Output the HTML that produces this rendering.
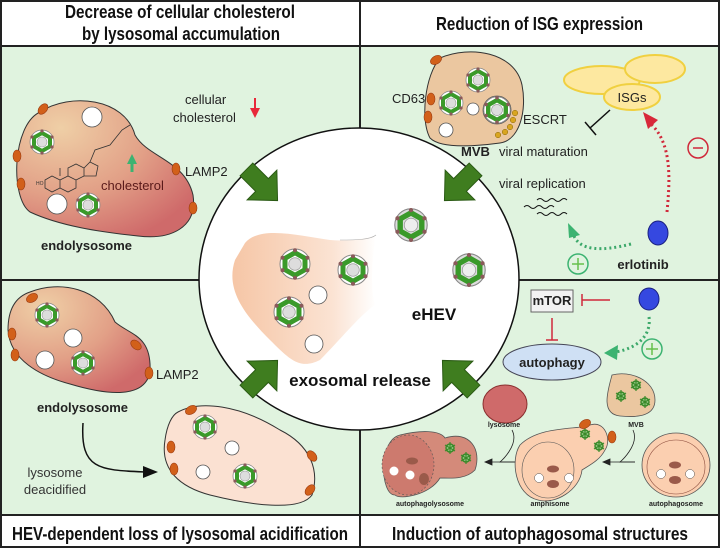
<!DOCTYPE html>
<html><head><meta charset="utf-8"><style>
html,body{margin:0;padding:0;background:#fff}
svg{display:block}
text{font-family:"Liberation Sans",Arial,sans-serif}
</style></head><body>
<svg width="720" height="548" viewBox="0 0 720 548" xmlns="http://www.w3.org/2000/svg">
<defs>
<radialGradient id="endo" cx="0.25" cy="0.2" r="0.9">
<stop offset="0" stop-color="#efcfa6"/><stop offset="0.55" stop-color="#e2a087"/><stop offset="1" stop-color="#cf6a6a"/>
</radialGradient>
<linearGradient id="exo" x1="0" y1="0" x2="1" y2="0">
<stop offset="0" stop-color="#f6c6a6"/><stop offset="0.7" stop-color="#fbe3d3"/><stop offset="1" stop-color="#ffffff"/>
</linearGradient>
<g id="v">
<circle r="12" fill="#fff" stroke="#888" stroke-width="0.8"/>
<polygon points="0,-9 8,-4.5 8,4.5 0,9 -8,4.5 -8,-4.5" fill="none" stroke="#3a9a2a" stroke-width="4"/>
<circle r="5" fill="#ddd" stroke="#999" stroke-width="0.6"/>
<g fill="#8a5a5a"><circle cx="0" cy="-11" r="1.6"/><circle cx="0" cy="11" r="1.6"/><circle cx="10" cy="-5" r="1.6"/><circle cx="-10" cy="-5" r="1.6"/><circle cx="10" cy="5" r="1.6"/><circle cx="-10" cy="5" r="1.6"/></g>
</g>
<g id="vg">
<circle r="12" fill="#ddd" stroke="#888" stroke-width="0.8"/>
<polygon points="0,-9 8,-4.5 8,4.5 0,9 -8,4.5 -8,-4.5" fill="none" stroke="#3a9a2a" stroke-width="4"/>
<circle r="5" fill="#eee" stroke="#999" stroke-width="0.6"/>
<g fill="#8a5a5a"><circle cx="0" cy="-11" r="1.6"/><circle cx="0" cy="11" r="1.6"/><circle cx="10" cy="-5" r="1.6"/><circle cx="-10" cy="-5" r="1.6"/><circle cx="10" cy="5" r="1.6"/><circle cx="-10" cy="5" r="1.6"/></g>
</g>
<g id="sv"><circle r="4" fill="#9acb8a" stroke="#3a8a2a" stroke-width="1.5"/><g stroke="#3a8a2a" stroke-width="1.2"><line x1="0" y1="-6" x2="0" y2="6"/><line x1="-5" y1="-3" x2="5" y2="3"/><line x1="-5" y1="3" x2="5" y2="-3"/></g></g>
<ellipse id="lp" rx="4" ry="6" fill="#d2601a" stroke="#9a3a10" stroke-width="0.6"/>
<polygon id="ga" points="-9,-22 9,-22 9,0 21,0 0,22 -21,0 -9,0" fill="#3f7d1f" stroke="#2a5a14" stroke-width="1"/>
</defs>

<rect x="0" y="0" width="720" height="548" fill="#fff"/>
<rect x="1" y="46" width="718" height="469" fill="#e0f3df"/>
<g stroke="#222" stroke-width="2" fill="none">
<rect x="1" y="1" width="718" height="546"/>
<line x1="0" y1="46" x2="720" y2="46"/>
<line x1="0" y1="515" x2="720" y2="515"/>
<line x1="0" y1="280" x2="720" y2="280"/>
<line x1="360" y1="0" x2="360" y2="548"/>
</g>
<g font-weight="bold" font-size="18" fill="#111">
<text x="65" y="18" textLength="230" lengthAdjust="spacingAndGlyphs">Decrease of cellular cholesterol</text>
<text x="82" y="40" textLength="198" lengthAdjust="spacingAndGlyphs">by lysosomal accumulation</text>
<text x="436" y="30" textLength="207" lengthAdjust="spacingAndGlyphs">Reduction of ISG expression</text>
<text x="12" y="540" textLength="336" lengthAdjust="spacingAndGlyphs">HEV-dependent loss of lysosomal acidification</text>
<text x="392" y="540" textLength="296" lengthAdjust="spacingAndGlyphs">Induction of autophagosomal structures</text>
</g>

<!-- top-left -->
<path d="M40,112 C70,92 125,98 135,135 C148,158 185,160 193,195 C198,228 170,240 138,236 C100,232 60,226 30,212 C10,198 12,125 40,112 Z" fill="url(#endo)" stroke="#333" stroke-width="1"/>
<use href="#lp" x="43" y="109" transform="rotate(40 43 109)"/>
<use href="#lp" x="17" y="156"/><use href="#lp" x="21" y="184"/>
<use href="#lp" x="176" y="169"/><use href="#lp" x="193" y="208"/>
<circle cx="92" cy="117" r="10" fill="#fff" stroke="#555" stroke-width="0.8"/>
<circle cx="57" cy="204" r="10" fill="#fff" stroke="#555" stroke-width="0.8"/>
<use href="#v" x="42" y="142"/><use href="#v" x="88" y="205"/>
<g stroke="#333" stroke-width="0.8" fill="none">
<path d="M45,180 L52,176 L60,180 L60,188 L52,192 L45,188 Z M60,180 L68,176 L76,180 L76,188 L68,192 L60,188 M68,176 L68,168 L76,164 L84,168 L84,176 L76,180 M84,168 L90,162 L98,166 L96,176 L84,176 M90,162 L95,150 L110,145 L122,130 L130,125 M60,168 L60,176"/>
</g>
<text x="36" y="185" font-size="5" fill="#333">HO</text>
<path d="M132,172 L132,162" stroke="#3cb371" stroke-width="3"/><polygon points="127,164 132,154 137,164" fill="#3cb371"/>
<text x="101" y="190" font-size="13" fill="#5a1a1a">cholesterol</text>
<text x="185" y="176" font-size="13" fill="#222">LAMP2</text>
<text x="185" y="104" font-size="13" fill="#222">cellular</text>
<text x="173" y="122" font-size="13" fill="#222">cholesterol</text>
<path d="M255,98 L255,111" stroke="#e8283a" stroke-width="2"/><polygon points="250,108 255,118 260,108" fill="#e8283a"/>
<text x="41" y="250" font-size="13" font-weight="bold" fill="#222">endolysosome</text>

<!-- bottom-left -->
<path d="M30,292 C60,280 100,288 115,322 C130,335 152,335 150,372 C145,398 110,396 70,384 C40,376 10,360 8,330 C8,310 15,297 30,292 Z" fill="url(#endo)" stroke="#333" stroke-width="1"/>
<use href="#lp" x="32" y="298" transform="rotate(60 32 298)"/>
<use href="#lp" x="12" y="334"/><use href="#lp" x="15" y="355"/>
<use href="#lp" x="136" y="345" transform="rotate(-50 136 345)"/><use href="#lp" x="149" y="373"/>
<use href="#v" x="47" y="315"/><use href="#v" x="83" y="363"/>
<circle cx="73" cy="338" r="9" fill="#fff" stroke="#555" stroke-width="0.8"/>
<circle cx="45" cy="360" r="9" fill="#fff" stroke="#555" stroke-width="0.8"/>
<text x="156" y="379" font-size="13" fill="#222">LAMP2</text>
<text x="37" y="412" font-size="13" font-weight="bold" fill="#222">endolysosome</text>
<path d="M83,423 C80,470 100,470 145,472" stroke="#111" stroke-width="1.5" fill="none"/>
<polygon points="143,466 158,472 143,478" fill="#111"/>
<text x="55" y="477" font-size="13" fill="#333" text-anchor="middle">lysosome</text>
<text x="55" y="494" font-size="13" fill="#333" text-anchor="middle">deacidified</text>
<path d="M178,412 C200,400 240,405 280,430 C310,445 320,470 312,495 C300,512 250,505 210,495 C180,487 160,470 165,440 C167,425 172,415 178,412 Z" fill="#fbe1d2" stroke="#333" stroke-width="1"/>
<use href="#lp" x="191" y="410" transform="rotate(60 191 410)"/>
<use href="#lp" x="171" y="447"/><use href="#lp" x="174" y="469"/>
<use href="#lp" x="312" y="456" transform="rotate(-40 312 456)"/><use href="#lp" x="310" y="490" transform="rotate(40 310 490)"/>
<use href="#v" x="205" y="427"/><use href="#v" x="245" y="476"/>
<circle cx="232" cy="448" r="7" fill="#fff" stroke="#555" stroke-width="0.8"/>
<circle cx="203" cy="472" r="7" fill="#fff" stroke="#555" stroke-width="0.8"/>

<!-- top-right -->
<path d="M440,58 C470,45 515,52 522,85 C527,110 520,140 500,143 C470,147 440,148 430,138 C420,120 425,75 440,58 Z" fill="#ebc7a0" stroke="#333" stroke-width="1"/>
<use href="#lp" x="436" y="60" transform="rotate(60 436 60)"/>
<use href="#lp" x="431" y="99"/><use href="#lp" x="428" y="117"/>
<g fill="#d9a520" stroke="#8a6a10" stroke-width="0.5"><circle cx="515" cy="113" r="2.8"/><circle cx="513" cy="120" r="2.8"/><circle cx="510" cy="127" r="2.8"/><circle cx="505" cy="132" r="2.8"/><circle cx="498" cy="135" r="2.8"/></g>
<use href="#v" x="478" y="80"/><use href="#v" x="451" y="103"/>
<circle cx="497" cy="110" r="14" fill="#fff" stroke="#555" stroke-width="0.8"/>
<use href="#v" x="497" y="110" transform="translate(497 110) scale(1.1) translate(-497 -110)"/>
<circle cx="473" cy="109" r="6" fill="#fff" stroke="#555" stroke-width="0.8"/>
<circle cx="446" cy="130" r="7" fill="#fff" stroke="#555" stroke-width="0.8"/>
<text x="392" y="103" font-size="13" fill="#222">CD63</text>
<text x="523" y="124" font-size="13" fill="#222">ESCRT</text>
<text x="461" y="156" font-size="13" font-weight="bold" fill="#222">MVB</text>
<text x="499" y="156" font-size="13" fill="#222">viral maturation</text>
<text x="499" y="188" font-size="13" fill="#222">viral replication</text>
<g stroke="#111" stroke-width="1" fill="none">
<path d="M537,200 q3,-3 6,0 t6,0 t6,0 t6,0 t6,0"/>
<path d="M524,207 q3,-3 6,0 t6,0 t6,0 t6,0 t6,0"/>
<path d="M537,214 q3,-3 6,0 t6,0 t6,0 t6,0 t6,0"/>
</g>
<line x1="610" y1="110" x2="590" y2="128" stroke="#111" stroke-width="1.5"/>
<line x1="585" y1="122" x2="596" y2="135" stroke="#111" stroke-width="1.5"/>
<ellipse cx="602" cy="80" rx="38" ry="14" fill="#fde8a0" stroke="#f0d040" stroke-width="2"/>
<ellipse cx="655" cy="69" rx="30" ry="14" fill="#fde8a0" stroke="#f0d040" stroke-width="2"/>
<ellipse cx="632" cy="97" rx="28" ry="13" fill="#fde8a0" stroke="#f0d040" stroke-width="2"/>
<text x="632" y="102" font-size="13" fill="#222" text-anchor="middle">ISGs</text>
<path d="M667,212 C670,180 672,145 652,125" stroke="#d0283a" stroke-width="3" stroke-dasharray="2,3" fill="none"/>
<polygon points="643,112 658,120 648,129" fill="#d8283a"/>
<circle cx="698" cy="148" r="10" fill="none" stroke="#d0283a" stroke-width="1.5"/>
<line x1="693" y1="148" x2="703" y2="148" stroke="#d0283a" stroke-width="1.5"/>
<ellipse cx="658" cy="233" rx="10" ry="12" fill="#3548e0" stroke="#1a2080" stroke-width="1"/>
<text x="643" y="269" font-size="13" font-weight="bold" fill="#222" text-anchor="middle">erlotinib</text>
<path d="M631,244 C600,252 580,250 574,236" stroke="#3ca86a" stroke-width="3" stroke-dasharray="2,3" fill="none"/>
<polygon points="568,223 580,235 569,238" fill="#3cb371"/>
<circle cx="578" cy="264" r="10" fill="none" stroke="#3cb371" stroke-width="1.5"/>
<g stroke="#66c04a" stroke-width="1.5"><line x1="572" y1="264" x2="584" y2="264"/><line x1="578" y1="258" x2="578" y2="270"/></g>

<!-- bottom-right -->
<rect x="531" y="290" width="42" height="22" fill="#f2f2f2" stroke="#666" stroke-width="1"/>
<text x="552" y="305" font-size="13" font-weight="bold" fill="#222" text-anchor="middle">mTOR</text>
<g stroke="#d0283a" stroke-width="1.5"><line x1="582" y1="300" x2="610" y2="300"/><line x1="582" y1="294" x2="582" y2="306"/>
<line x1="552" y1="318" x2="552" y2="340"/><line x1="546" y1="340" x2="558" y2="340"/></g>
<ellipse cx="649" cy="299" rx="10" ry="11" fill="#3548e0" stroke="#1a2080" stroke-width="1"/>
<path d="M649,317 C652,340 630,350 615,352" stroke="#3ca86a" stroke-width="3" stroke-dasharray="2,3" fill="none"/>
<polygon points="604,353 618,345 617,360" fill="#3cb371"/>
<circle cx="652" cy="349" r="10" fill="none" stroke="#3cb371" stroke-width="1.5"/>
<g stroke="#66c04a" stroke-width="1.5"><line x1="646" y1="349" x2="658" y2="349"/><line x1="652" y1="343" x2="652" y2="355"/></g>
<ellipse cx="552" cy="362" rx="49" ry="18" fill="#cfe0f4" stroke="#445" stroke-width="1"/>
<text x="552" y="367" font-size="13" font-weight="bold" fill="#222" text-anchor="middle">autophagy</text>
<ellipse cx="505" cy="404" rx="22" ry="19" fill="#cf6a6a" stroke="#8a3030" stroke-width="1"/>
<text x="504" y="427" font-size="7" font-weight="bold" fill="#222" text-anchor="middle">lysosome</text>
<path d="M612,375 C630,370 655,380 655,400 C655,415 640,418 620,416 C600,414 608,390 612,375 Z" fill="#ebc7a0" stroke="#555" stroke-width="0.8"/>
<use href="#sv" x="636" y="385"/><use href="#sv" x="621" y="396"/><use href="#sv" x="645" y="402"/>
<text x="636" y="427" font-size="7" font-weight="bold" fill="#222" text-anchor="middle">MVB</text>
<g fill="none" stroke="#222" stroke-width="0.8">
<path d="M512,430 C520,445 500,462 500,462 L520,462"/><polygon points="485,462 492,459 492,465" fill="#222"/><line x1="492" y1="462" x2="515" y2="462"/>
<path d="M633,430 C640,445 620,462 620,462 L635,462"/><polygon points="603,462 610,459 610,465" fill="#222"/><line x1="610" y1="462" x2="635" y2="462"/>
</g>
<path d="M400,435 C420,430 440,430 445,438 C470,430 482,450 475,470 C465,480 450,478 440,478 C430,495 400,500 395,495 C380,495 378,440 400,435 Z" fill="#d48a7a" stroke="#555" stroke-width="0.8"/>
<ellipse cx="408" cy="465" rx="26" ry="30" fill="#cd7a6e" stroke="#555" stroke-width="0.6" stroke-dasharray="2,2"/>
<use href="#sv" x="450" y="448"/><use href="#sv" x="466" y="458"/>
<circle cx="394" cy="471" r="4.5" fill="#fff"/><circle cx="410" cy="475" r="4.5" fill="#fff"/>
<ellipse cx="412" cy="461" rx="6" ry="3.5" fill="#9a5a4a"/><ellipse cx="424" cy="479" rx="5" ry="6" fill="#9a5a4a"/>
<text x="430" y="506" font-size="7" font-weight="bold" fill="#222" text-anchor="middle">autophagolysosome</text>
<path d="M520,445 C540,425 580,430 590,425 C605,420 612,440 605,450 C600,460 590,465 582,470 C580,490 555,505 538,500 C515,495 510,460 520,445 Z" fill="#fbcfb0" stroke="#555" stroke-width="0.8"/>
<ellipse cx="548" cy="470" rx="26" ry="28" fill="none" stroke="#555" stroke-width="0.6"/>
<use href="#sv" x="585" y="434"/><use href="#sv" x="599" y="446"/>
<use href="#lp" x="585" y="424" transform="rotate(60 585 424)"/><use href="#lp" x="612" y="437"/>
<circle cx="539" cy="478" r="4.5" fill="#fff" stroke="#555" stroke-width="0.5"/><circle cx="569" cy="478" r="4.5" fill="#fff" stroke="#555" stroke-width="0.5"/>
<ellipse cx="553" cy="469" rx="6" ry="3.5" fill="#9a5a4a"/><ellipse cx="553" cy="484" rx="6" ry="4" fill="#9a5a4a"/>
<text x="550" y="506" font-size="7" font-weight="bold" fill="#222" text-anchor="middle">amphisome</text>
<ellipse cx="676" cy="465" rx="34" ry="32" fill="#fbcfb0" stroke="#555" stroke-width="0.8"/>
<ellipse cx="676" cy="467" rx="29" ry="27" fill="none" stroke="#8a4a3a" stroke-width="0.6"/>
<circle cx="661" cy="474" r="4.5" fill="#fff" stroke="#555" stroke-width="0.5"/><circle cx="690" cy="474" r="4.5" fill="#fff" stroke="#555" stroke-width="0.5"/>
<ellipse cx="675" cy="465" rx="6" ry="3.5" fill="#9a5a4a"/><ellipse cx="675" cy="480" rx="6" ry="4" fill="#9a5a4a"/>
<text x="676" y="506" font-size="7" font-weight="bold" fill="#222" text-anchor="middle">autophagosome</text>

<!-- central circle -->
<ellipse cx="359" cy="279" rx="160" ry="151" fill="#fff" stroke="#111" stroke-width="1.5"/>
<path d="M245,243 C260,225 300,236 330,240 C350,242 370,238 376,235 C372,255 370,290 375,305 C360,315 340,340 320,360 C300,370 290,360 270,340 C245,315 225,290 235,260 Z" fill="url(#exo)"/>
<path d="M340,240 C355,240 370,240 376,235" stroke="#aaa" stroke-width="0.6" fill="none"/>
<use href="#v" x="295" y="264" transform="translate(295 264) scale(1.25) translate(-295 -264)"/>
<use href="#v" x="353" y="270" transform="translate(353 270) scale(1.25) translate(-353 -270)"/>
<use href="#v" x="289" y="312" transform="translate(289 312) scale(1.25) translate(-289 -312)"/>
<circle cx="318" cy="295" r="9" fill="#fff" stroke="#555" stroke-width="0.8"/>
<circle cx="314" cy="344" r="9" fill="#fff" stroke="#555" stroke-width="0.8"/>
<use href="#vg" x="411" y="225" transform="translate(411 225) scale(1.35) translate(-411 -225)"/>
<use href="#vg" x="469" y="270" transform="translate(469 270) scale(1.35) translate(-469 -270)"/>
<text x="434" y="320" font-size="17" font-weight="bold" fill="#111" text-anchor="middle">eHEV</text>
<text x="360" y="386" font-size="17" font-weight="bold" fill="#111" text-anchor="middle">exosomal release</text>
<use href="#ga" transform="translate(262 185) rotate(-45)"/>
<use href="#ga" transform="translate(460 185) rotate(45)"/>
<use href="#ga" transform="translate(262 376) rotate(-135)"/>
<use href="#ga" transform="translate(458 376) rotate(135)"/>
</svg>
</body></html>
